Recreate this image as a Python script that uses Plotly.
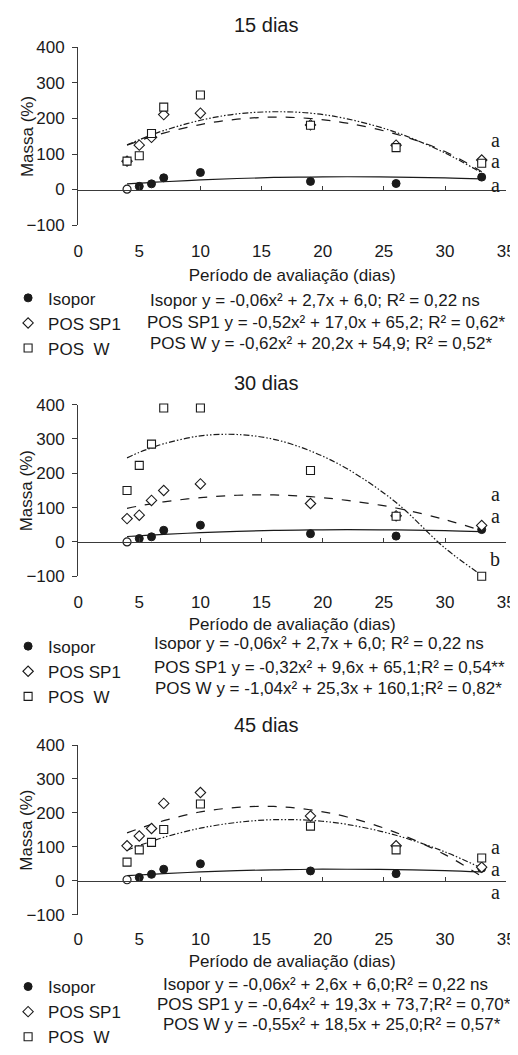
import plotly.graph_objects as go

# ---------------- data ----------------
days = [4, 5, 6, 7, 10, 19, 26, 33]
curve_days = [4, 5, 6, 7, 10, 13, 16, 19, 22, 26, 30, 33]
xticks = [0, 5, 10, 15, 20, 25, 30, 35]
yticks = [-100, 0, 100, 200, 300, 400]

titles = ["15 dias", "30 dias", "45 dias"]
names = ["Isopor", "POS SP1", "POS\u00a0 W"]

# 15 dias
isopor_15 = [1, 9, 16, 33, 48, 23, 17, 35]
sp1_15 = [80, 125, 147, 211, 215, 182, 125, 83]
w_15 = [80, 95, 158, 232, 266, 181, 118, 74]
fit_isopor_15 = [16, 18, 20, 22, 27, 31, 34, 35, 36, 35, 33, 30]
fit_sp1_15 = [125, 137, 149, 159, 183, 198, 204, 200, 187, 156, 107, 50]
fit_w_15 = [126, 140, 154, 166, 195, 213, 219, 215, 199, 161, 103, 47]
eq_15 = ["Isopor y = -0,06x² + 2,7x + 6,0; R² = 0,22 ns",
         "POS SP1 y = -0,52x² + 17,0x + 65,2; R² = 0,62*",
         "POS W y = -0,62x² + 20,2x + 54,9; R² = 0,52*"]
letters_15 = ["a", "a", "a"]
letters_y_15 = [139, 81, 14]

# 30 dias
isopor_30 = [0, 10, 15, 34, 49, 24, 17, 36]
sp1_30 = [68, 78, 121, 150, 169, 112, 76, 48]
w_30 = [150, 223, 285, 390, 390, 208, 75, -100]
fit_isopor_30 = [16, 18, 20, 22, 27, 31, 34, 35, 36, 35, 33, 30]
fit_sp1_30 = [98, 105, 111, 117, 129, 136, 137, 132, 121, 99, 65, 33]
fit_w_30 = [245, 261, 274, 286, 309, 313, 299, 265, 213, 115, -18, -97]
eq_30 = ["Isopor y = -0,06x² + 2,7x + 6,0; R² = 0,22 ns",
         "POS SP1 y = -0,32x² + 9,6x + 65,1;R² = 0,54**",
         "POS W y = -1,04x² + 25,3x + 160,1;R² = 0,82*"]
letters_30 = ["a", "a", "b"]
letters_y_30 = [141, 77, -50]

# 45 dias
isopor_45 = [3, 10, 19, 34, 50, 29, 21, 37]
sp1_45 = [103, 132, 154, 228, 260, 191, 103, 40]
w_45 = [55, 91, 113, 151, 226, 161, 91, 67]
fit_isopor_45 = [15, 17, 19, 21, 26, 30, 32, 34, 34, 33, 30, 26]
fit_sp1_45 = [141, 154, 166, 177, 203, 216, 219, 209, 188, 142, 77, 13]
fit_w_45 = [90, 104, 116, 128, 155, 172, 180, 178, 166, 134, 85, 37]
eq_45 = ["Isopor y = -0,06x² + 2,6x + 6,0;R² = 0,22 ns",
         "POS SP1 y = -0,64x² + 19,3x + 73,7;R² = 0,70*",
         "POS W y = -0,55x² + 18,5x + 25,0;R² = 0,57*"]
letters_45 = ["a", "a", "a"]
letters_y_45 = [100, 35, -32]

# ---------------- layout geometry ----------------
# The page body has an 8 px margin, so the figure is made 8 px smaller on each
# axis and page-pixel positions are converted to figure paper fractions.
OFF = 8
FW, FH = 518 - OFF, 1055 - OFF


def xp(px):
    return (px - OFF) / FW


def yp(py):
    return 1 - (py - OFF) / FH


FONT = "Liberation Sans, Arial, sans-serif"
SERIF = "Liberation Serif, Times New Roman, serif"
INK = "#1a1a1a"
AX = "#3a3a3a"
X0, X1 = 72, 506
panels = [
    dict(top=48, bot=228, title_y=25, leg_y=284, lab_so=46, tit_so=9,
         eq_y=[304, 327, 348], eq_x=[143, 140, 143],
         iso=isopor_15, sp1=sp1_15, w=w_15, fi=fit_isopor_15, fs=fit_sp1_15, fw=fit_w_15,
         eq=eq_15, let=letters_15, let_y=letters_y_15, title=titles[0]),
    dict(top=410, bot=584, title_y=388, leg_y=637, lab_so=45, tit_so=6,
         eq_y=[652, 676, 698], eq_x=[147, 147, 148],
         iso=isopor_30, sp1=sp1_30, w=w_30, fi=fit_isopor_30, fs=fit_sp1_30, fw=fit_w_30,
         eq=eq_30, let=letters_30, let_y=letters_y_30, title=titles[1]),
    dict(top=755, bot=927, title_y=735, leg_y=982, lab_so=43, tit_so=6,
         eq_y=[998, 1018, 1038], eq_x=[156, 150, 156],
         iso=isopor_45, sp1=sp1_45, w=w_45, fi=fit_isopor_45, fs=fit_sp1_45, fw=fit_w_45,
         eq=eq_45, let=letters_45, let_y=letters_y_45, title=titles[2]),
]

fig = go.Figure()
annotations = []
layout_axes = {}

for i, p in enumerate(panels, start=1):
    sfx = "" if i == 1 else str(i)
    xa, ya = "x" + sfx, "y" + sfx
    leg = "legend" if i == 1 else "legend" + str(i)
    dom = [yp(p["bot"]), yp(p["top"])]
    zero_pos = dom[0] + (0 - yticks[0]) / (yticks[-1] - yticks[0]) * (dom[1] - dom[0])

    # trend curves
    for vals, dash in [(p["fi"], "solid"), (p["fs"], "dash"), (p["fw"], "6px,2px,1.5px,2px,1.5px,2px")]:
        fig.add_trace(go.Scatter(x=curve_days, y=vals, mode="lines", xaxis=xa, yaxis=ya,
                                 line=dict(color=INK, width=1.2, dash=dash, shape="spline", smoothing=1.0),
                                 showlegend=False, hoverinfo="skip"))

    # Isopor day-4 point (open circle)
    fig.add_trace(go.Scatter(x=days[:1], y=p["iso"][:1], mode="markers", xaxis=xa, yaxis=ya,
                             marker=dict(symbol="circle", size=8, color="white",
                                         line=dict(color=INK, width=1.2)),
                             showlegend=False, legendgroup="iso" + sfx, cliponaxis=False))
    fig.add_trace(go.Scatter(x=days[1:], y=p["iso"][1:], mode="markers", xaxis=xa, yaxis=ya,
                             name=names[0], legend=leg, legendgroup="iso" + sfx, legendrank=1,
                             cliponaxis=False,
                             marker=dict(symbol="circle", size=8, color=INK,
                                         line=dict(color=INK, width=1))))
    fig.add_trace(go.Scatter(x=days, y=p["sp1"], mode="markers", xaxis=xa, yaxis=ya,
                             name=names[1], legend=leg, legendrank=2, cliponaxis=False,
                             marker=dict(symbol="diamond", size=8, color="white",
                                         line=dict(color=INK, width=1.1))))
    fig.add_trace(go.Scatter(x=days, y=p["w"], mode="markers", xaxis=xa, yaxis=ya,
                             name=names[2], legend=leg, legendrank=3, cliponaxis=False,
                             marker=dict(symbol="square", size=8, color="white",
                                         line=dict(color=INK, width=1.1))))

    layout_axes["xaxis" + sfx] = dict(
        domain=[xp(X0), xp(X1)], range=[0, 35], anchor="free", position=zero_pos,
        showline=True, linecolor=AX, linewidth=1, ticks="inside", ticklen=4, tickcolor=AX,
        tickvals=xticks, ticktext=[str(v) for v in xticks], ticklabelstandoff=p["lab_so"],
        tickfont=dict(size=17, color=INK, family=FONT), showgrid=False, zeroline=False,
        title=dict(text="Período de avaliação (dias)", standoff=p["tit_so"],
                   font=dict(size=17, color=INK, family=FONT)),
        automargin=False, fixedrange=True)
    layout_axes["yaxis" + sfx] = dict(
        domain=dom, range=[yticks[0], yticks[-1]], anchor=xa,
        showline=True, linecolor=AX, linewidth=1, ticks="outside", ticklen=5, tickcolor=AX,
        tickvals=yticks, ticklabelstandoff=4,
        tickfont=dict(size=17, color=INK, family=FONT), showgrid=False, zeroline=False,
        automargin=False, fixedrange=True)
    layout_axes[leg] = dict(
        x=xp(1), xanchor="left", y=yp(p["leg_y"]), yanchor="top",
        font=dict(size=17, color=INK, family=FONT), bgcolor="rgba(0,0,0,0)",
        itemwidth=30, traceorder="normal", tracegroupgap=0, itemsizing="trace")

    # title
    annotations.append(dict(text=p["title"], x=xp(263), y=yp(p["title_y"]), xref="paper", yref="paper",
                            xanchor="center", yanchor="middle", showarrow=False,
                            font=dict(size=20, color=INK, family=FONT)))
    # y-axis title
    annotations.append(dict(text="Massa (%)", x=xp(20), y=(dom[0] + dom[1]) / 2, xref="paper", yref="paper",
                            xanchor="center", yanchor="middle", textangle=-90, showarrow=False,
                            font=dict(size=17, color=INK, family=FONT)))
    # equations
    for txt, ey, ex in zip(p["eq"], p["eq_y"], p["eq_x"]):
        annotations.append(dict(text=txt, x=xp(ex), y=yp(ey), xref="paper", yref="paper",
                                xanchor="left", yanchor="middle", showarrow=False,
                                font=dict(size=17, color=INK, family=FONT)))
    # significance letters
    for lt, ly in zip(p["let"], p["let_y"]):
        annotations.append(dict(text=lt, x=34.1, y=ly, xref=xa, yref=ya,
                                xanchor="center", yanchor="middle", showarrow=False,
                                font=dict(size=20, color=INK, family=SERIF)))

fig.update_layout(
    width=FW, height=FH, autosize=False,
    margin=dict(l=0, r=0, t=0, b=0, pad=0),
    paper_bgcolor="white", plot_bgcolor="white",
    font=dict(family=FONT, color=INK, size=17),
    annotations=annotations,
    hovermode=False,
    **layout_axes,
)

fig.write_html("out.html")
